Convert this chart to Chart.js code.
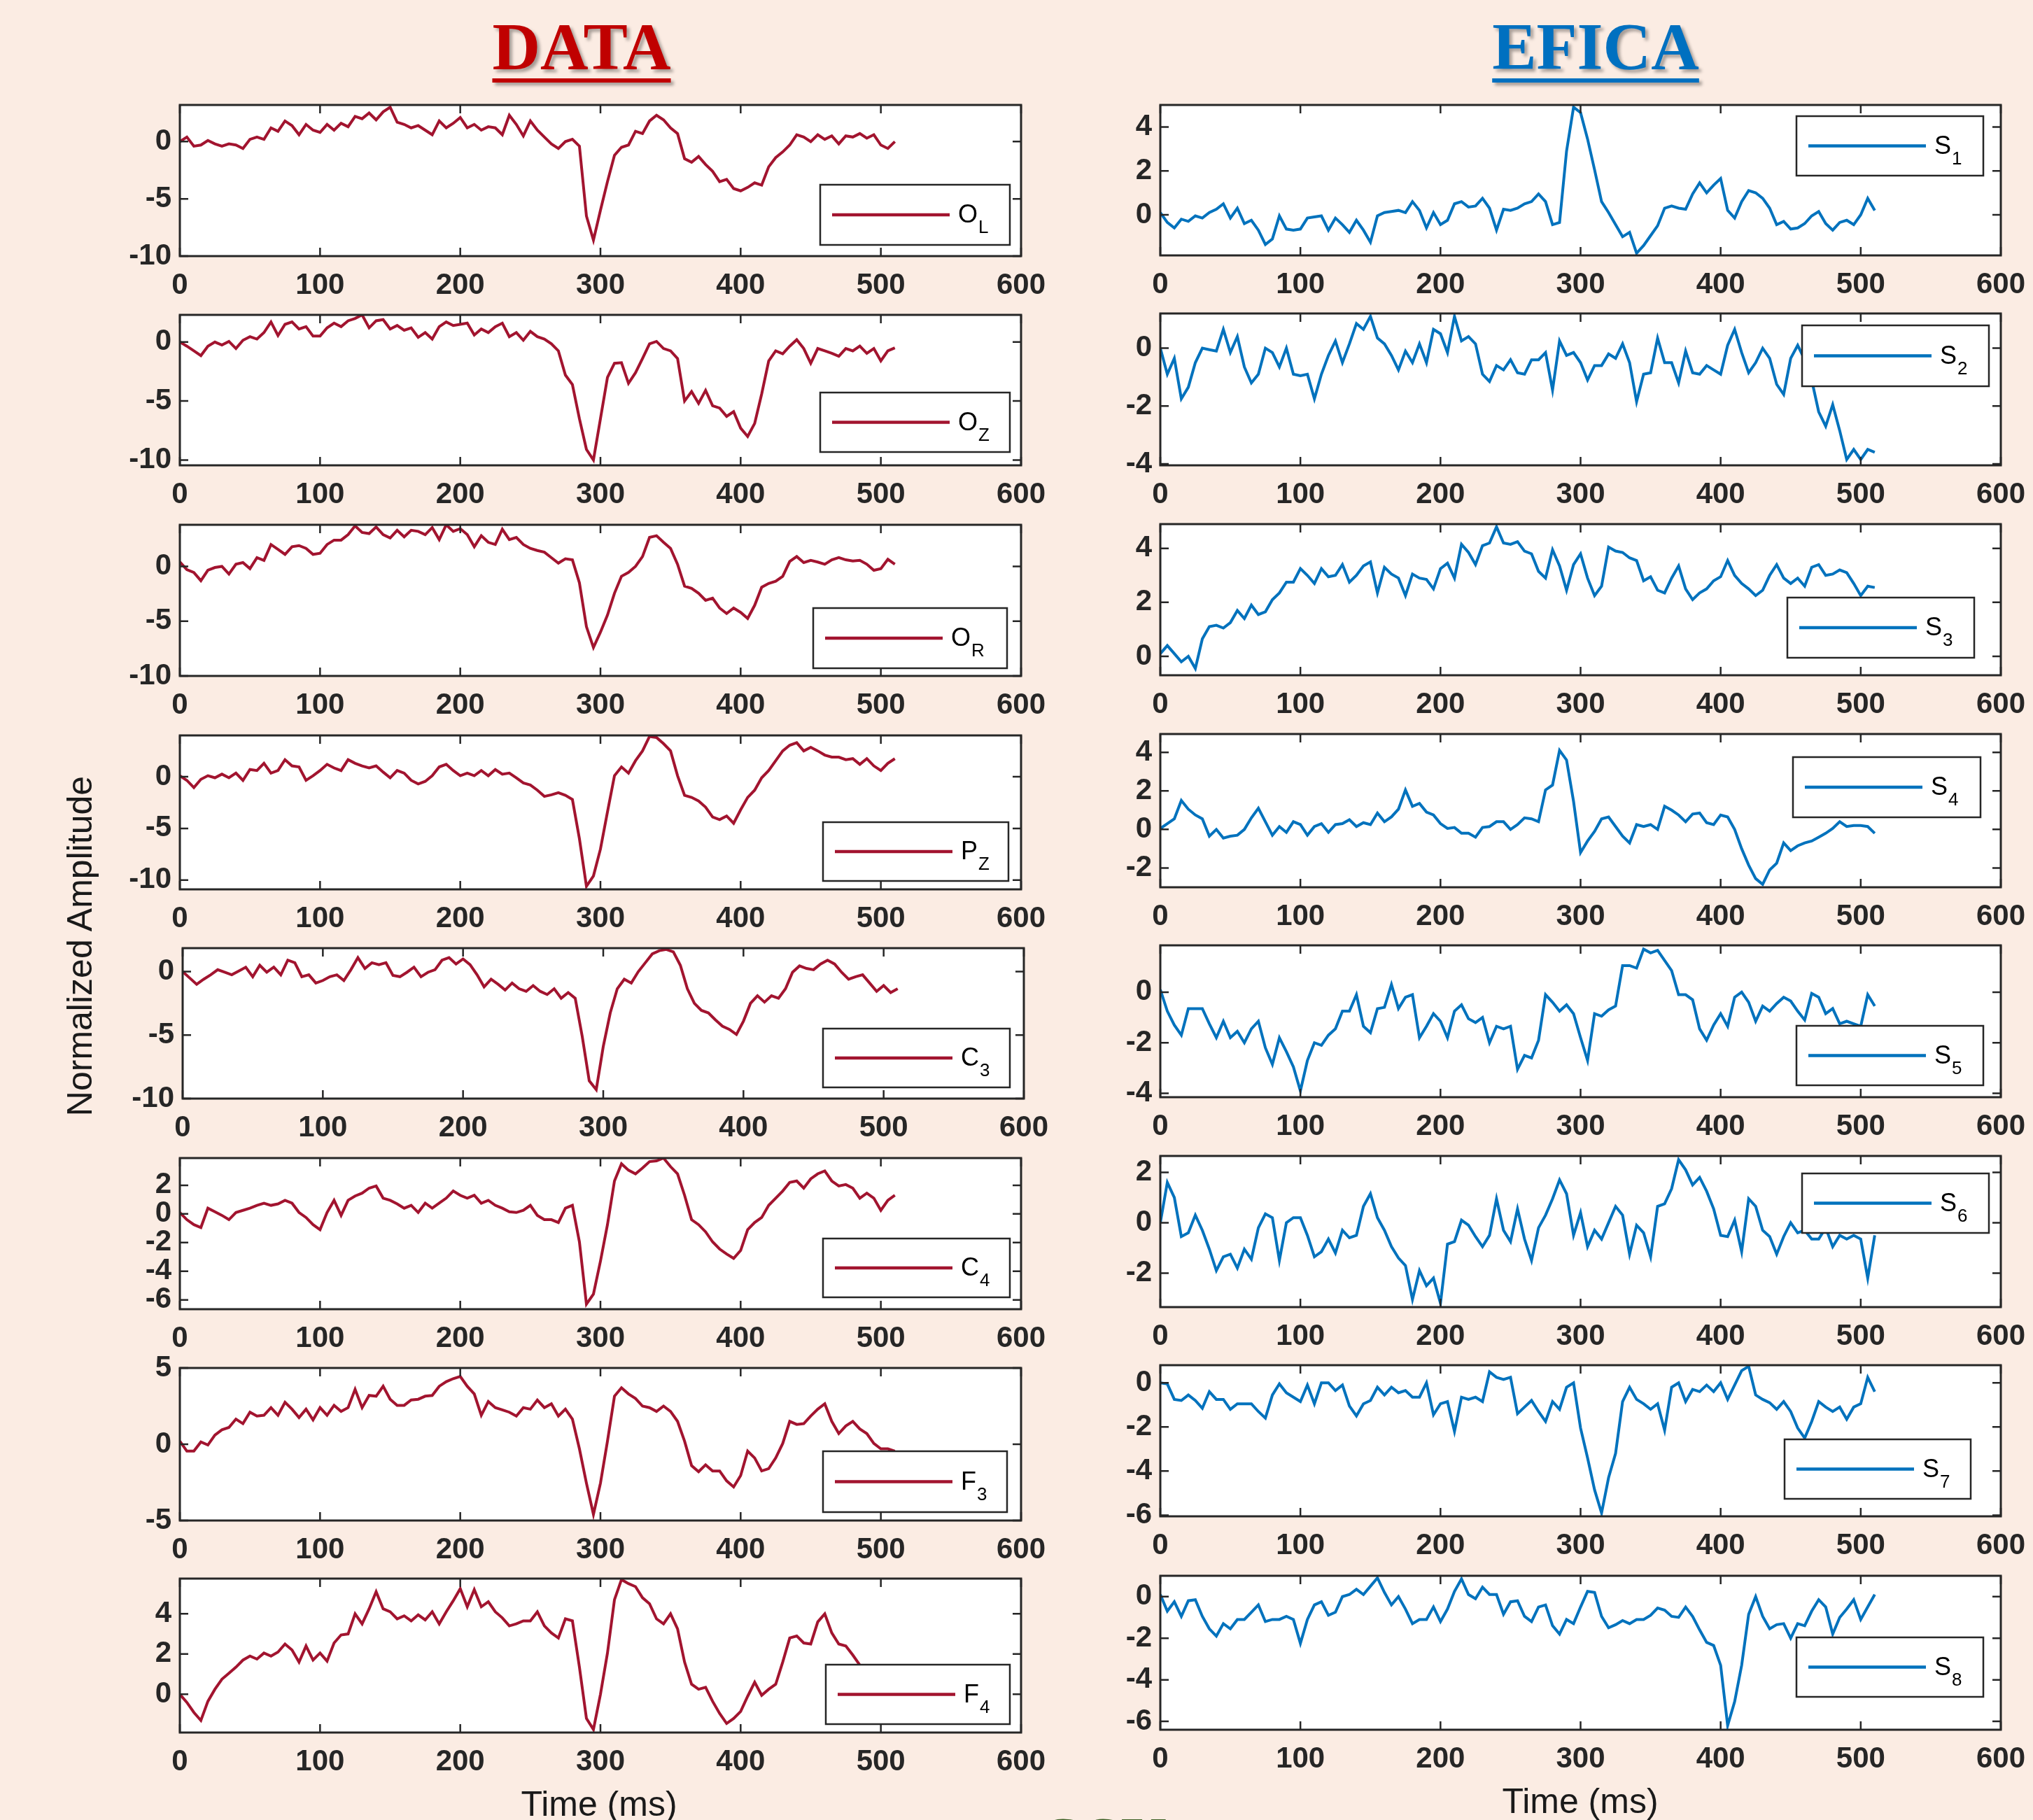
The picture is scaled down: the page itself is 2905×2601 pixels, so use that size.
<!DOCTYPE html>
<html>
<head>
<meta charset="utf-8">
<script src="https://cdn.jsdelivr.net/npm/chart.js@4.4.1/dist/chart.umd.min.js"></script>
<style>
  html, body { margin: 0; padding: 0; background: #fbece3; overflow: hidden; }
  #page { position: relative; width: 2905px; height: 2601px; overflow: hidden; background: #fbece3; }
  .title { position: absolute; font-family: "Liberation Serif", serif; font-weight: bold; font-size: 95px; line-height: 95px;
           white-space: nowrap; transform: translateX(-50%); text-decoration: underline; text-decoration-thickness: 6px;
           text-underline-offset: 13px; text-shadow: 4px 4px 4px rgba(0,0,0,0.35); }
  .label { position: absolute; font-family: "Liberation Sans", Arial, sans-serif; font-size: 50px; line-height: 50px;
           color: #1a1a1a; white-space: nowrap; }
</style>
</head>
<body>
<div id="page">
  <div class="title" style="left:831px; top:20px; color:#c00000;">DATA</div>
  <div class="title" style="left:2280px; top:20px; color:#0070c0;">EFICA</div>
  <div class="label" style="left:114px; top:1352px; transform: translate(-50%, -50%) rotate(-90deg);">Normalized Amplitude</div>
  <div class="label" style="left:856px; top:2553px; transform: translateX(-50%);">Time (ms)</div>
  <div class="label" style="left:2258px; top:2549px; transform: translateX(-50%);">Time (ms)</div>
  <div class="title" style="left:1575px; top:2582px; color:#3b5e22; font-size:93px; text-decoration:none; text-shadow:none;">CSU</div>
</div>
<script>
// sample times (ms)
const timeMs = [0,5,10,15,20,25,30,35,40,45,50,55,60,65,70,75,80,85,90,95,
  100,105,110,115,120,125,130,135,140,145,150,155,160,165,170,175,180,185,190,195,
  200,205,210,215,220,225,230,235,240,245,250,255,260,265,270,275,280,285,290,295,
  300,305,310,315,320,325,330,335,340,345,350,355,360,365,370,375,380,385,390,395,
  400,405,410,415,420,425,430,435,440,445,450,455,460,465,470,475,480,485,490,495,
  500,505,510];
const xTicks = [0, 100, 200, 300, 400, 500, 600];

// DATA channels
const oL = [0, 0.4, -0.4, -0.3, 0.1, -0.2, -0.4, -0.2, -0.3, -0.6,
  0.2, 0.4, 0.2, 1.2, 0.9, 1.8, 1.4, 0.6, 1.5, 1.0,
  0.8, 1.5, 1.0, 1.6, 1.3, 2.2, 2.0, 2.5, 1.9, 2.6,
  3.0, 1.7, 1.5, 1.2, 1.4, 1.0, 0.6, 1.8, 1.2, 1.6,
  2.1, 1.2, 1.5, 1.0, 1.3, 1.2, 0.6, 2.3, 1.5, 0.5,
  1.8, 1.0, 0.4, -0.2, -0.6, 0.0, 0.2, -0.4, -6.5, -8.6,
  -6.0, -3.5, -1.2, -0.5, -0.3, 0.9, 0.7, 1.8, 2.3, 1.9,
  1.2, 0.7, -1.5, -1.8, -1.3, -2.0, -2.6, -3.5, -3.3, -4.1,
  -4.3, -4.0, -3.6, -3.8, -2.2, -1.4, -0.9, -0.3, 0.6, 0.4,
  0.0, 0.6, 0.2, 0.5, -0.2, 0.5, 0.4, 0.7, 0.3, 0.6,
  -0.3, -0.6, 0.0];
const oZ = [0, -0.35, -0.75, -1.15, -0.35, 0, -0.25, 0.05, -0.55, 0.15,
  0.45, 0.25, 0.8, 1.7, 0.55, 1.5, 1.7, 1.1, 1.3, 0.5,
  0.5, 1.2, 1.6, 1.3, 1.8, 2.0, 2.3, 1.2, 1.8, 1.9,
  1.1, 1.4, 1.0, 1.2, 0.4, 0.8, 0.25, 1.3, 1.7, 1.4,
  1.5, 1.6, 0.6, 1.1, 0.8, 1.3, 1.6, 0.45, 0.8, 0.15,
  0.9, 0.45, 0.25, -0.15, -0.75, -2.8, -3.6, -6.5, -9.1, -10.0,
  -6.5, -3.0, -1.8, -1.75, -3.5, -2.6, -1.4, -0.15, 0.05, -0.55,
  -0.75, -1.4, -5.0, -4.2, -5.2, -4.1, -5.4, -5.6, -6.3, -5.9,
  -7.3, -8.0, -6.9, -4.4, -1.6, -0.75, -1.0, -0.35, 0.2, -0.55,
  -1.8, -0.55, -0.75, -0.95, -1.2, -0.55, -0.75, -0.35, -0.95, -0.55,
  -1.6, -0.75, -0.5];
const oR = [0.4, -0.3, -0.55, -1.3, -0.35, -0.1, 0, -0.7, 0.2, 0.35,
  -0.2, 0.8, 0.55, 2.0, 1.55, 1.1, 1.8, 1.9, 1.65, 1.1,
  1.2, 2.0, 2.4, 2.4, 2.9, 3.7, 3.1, 3.0, 3.6, 2.9,
  2.6, 3.3, 2.7, 3.3, 3.2, 2.9, 3.55, 2.45, 3.8, 3.2,
  3.45, 2.9, 1.8, 2.8, 2.2, 2.0, 3.4, 2.45, 2.65, 2.0,
  1.65, 1.45, 1.3, 0.8, 0.3, 0.7, 0.6, -1.5, -5.5, -7.4,
  -6.0, -4.45, -2.45, -0.9, -0.55, 0, 0.9, 2.65, 2.8, 2.2,
  1.65, 0.2, -1.8, -2.0, -2.45, -3.1, -2.9, -3.8, -4.3, -3.8,
  -4.2, -4.75, -3.55, -1.9, -1.55, -1.35, -0.9, 0.45, 0.9, 0.35,
  0.55, 0.4, 0.2, 0.6, 0.8, 0.6, 0.5, 0.55, 0.2, -0.35,
  -0.2, 0.65, 0.2];
const pZ = [0.1, -0.35, -1.05, -0.25, 0.1, -0.1, 0.25, -0.1, 0.35, -0.35,
  0.7, 0.6, 1.3, 0.35, 0.6, 1.65, 1.05, 0.95, -0.35, 0.1,
  0.6, 1.2, 0.85, 0.6, 1.65, 1.3, 1.05, 0.85, 1.05, 0.45,
  -0.1, 0.6, 0.35, -0.35, -0.7, -0.45, 0.1, 0.95, 1.2, 0.6,
  0.1, 0.35, 0.1, 0.6, 0.1, 0.7, 0.25, 0.35, -0.1, -0.6,
  -0.8, -1.3, -1.9, -1.75, -1.55, -1.8, -2.2, -6.0, -10.6, -9.6,
  -7.0, -3.4, 0.1, 0.95, 0.35, 1.55, 2.5, 3.9, 3.8, 3.2,
  2.5, 0.1, -1.8, -2.0, -2.35, -2.95, -3.9, -4.15, -3.8, -4.5,
  -3.2, -2.0, -1.3, -0.1, 0.6, 1.55, 2.5, 3.05, 3.3, 2.5,
  2.85, 2.5, 2.1, 1.9, 1.9, 1.65, 1.75, 1.2, 1.75, 1.05,
  0.6, 1.3, 1.75];
const c3 = [0, -0.5, -1.0, -0.6, -0.25, 0.15, -0.05, -0.25, 0.05, 0.35,
  -0.4, 0.5, -0.05, 0.35, -0.25, 0.9, 0.7, -0.4, -0.25, -0.9,
  -0.7, -0.4, -0.25, -0.7, 0.15, 1.1, 0.25, 0.7, 0.55, 0.7,
  -0.3, -0.4, -0.05, 0.35, -0.4, -0.05, 0.15, 0.9, 1.1, 0.6,
  1.0, 0.55, -0.25, -1.2, -0.6, -1.0, -1.45, -0.9, -1.35, -1.55,
  -1.1, -1.55, -1.8, -1.35, -2.1, -1.65, -2.1, -5.1, -8.6, -9.3,
  -5.9, -3.25, -1.35, -0.6, -0.9, 0.0, 0.7, 1.4, 1.65, 1.75,
  1.55, 0.5, -1.35, -2.5, -3.05, -3.25, -3.8, -4.3, -4.55, -4.95,
  -3.9, -2.5, -1.9, -2.4, -1.9, -2.1, -1.35, -0.05, 0.45, 0.25,
  0.15, 0.6, 0.9, 0.6, -0.05, -0.6, -0.4, -0.25, -0.9, -1.55,
  -1.1, -1.65, -1.35];
const c4 = [0.1, -0.4, -0.75, -0.95, 0.4, 0.15, -0.1, -0.4, 0.1, 0.25,
  0.4, 0.6, 0.75, 0.6, 0.7, 0.95, 0.75, 0.1, -0.25, -0.75,
  -1.1, 0.1, 0.95, -0.1, 0.95, 1.25, 1.45, 1.8, 1.95, 1.1,
  0.95, 0.7, 0.4, 0.6, 0.1, 0.75, 0.4, 0.75, 1.1, 1.6,
  1.3, 1.1, 1.3, 0.75, 0.95, 0.6, 0.4, 0.15, 0.1, 0.25,
  0.6, -0.1, -0.4, -0.4, -0.6, 0.4, 0.6, -1.95, -6.3, -5.6,
  -3.3, -0.75, 2.3, 3.5, 3.05, 2.8, 3.2, 3.65, 3.7, 3.9,
  3.3, 2.8, 1.3, -0.4, -0.75, -1.25, -1.95, -2.45, -2.8, -3.1,
  -2.55, -1.1, -0.6, -0.25, 0.6, 1.1, 1.6, 2.2, 2.3, 1.8,
  2.45, 2.8, 3.0, 2.3, 1.95, 2.05, 1.8, 1.1, 1.45, 1.1,
  0.25, 0.95, 1.3];
const f3 = [0.2, -0.45, -0.45, 0.15, -0.05, 0.6, 0.95, 1.1, 1.65, 1.35,
  2.1, 1.85, 1.9, 2.4, 1.9, 2.75, 2.3, 1.75, 2.3, 1.6,
  2.4, 1.9, 2.55, 2.15, 2.4, 3.6, 2.4, 3.2, 3.15, 3.8,
  2.95, 2.55, 2.55, 2.9, 2.95, 3.15, 3.2, 3.8, 4.1, 4.3,
  4.45, 3.8, 3.3, 1.9, 2.8, 2.4, 2.25, 2.1, 1.85, 2.4,
  2.3, 2.9, 2.4, 2.65, 1.85, 2.3, 1.65, -0.3, -2.55, -4.6,
  -2.55, 0.2, 3.15, 3.7, 3.3, 3.0, 2.5, 2.4, 2.15, 2.5,
  2.15, 1.5, 0.2, -1.4, -1.8, -1.35, -1.75, -1.75, -2.4, -2.8,
  -2.05, -0.45, -0.9, -1.75, -1.6, -0.9, 0.05, 1.5, 1.3, 1.35,
  1.85, 2.3, 2.65, 1.5, 0.7, 1.2, 1.5, 1.0, 0.7, 0.05,
  -0.3, -0.3, -0.45];
const f4 = [0.0, -0.4, -0.9, -1.3, -0.35, 0.25, 0.75, 1.05, 1.35, 1.7,
  1.9, 1.75, 2.05, 1.9, 2.1, 2.5, 2.2, 1.6, 2.4, 1.7,
  2.05, 1.65, 2.55, 2.95, 3.0, 4.0, 3.5, 4.25, 5.1, 4.25,
  4.1, 3.75, 3.9, 3.65, 3.95, 3.7, 4.1, 3.5, 4.1, 4.65,
  5.25, 4.35, 5.2, 4.35, 4.6, 4.1, 3.8, 3.4, 3.5, 3.65,
  3.65, 4.1, 3.4, 3.05, 2.8, 3.75, 3.65, 1.35, -1.2, -1.75,
  0.0, 2.05, 4.7, 5.7, 5.5, 5.35, 4.8, 4.5, 3.75, 3.5,
  4.0, 3.25, 1.6, 0.5, 0.25, 0.35, -0.35, -0.95, -1.45, -1.2,
  -0.85, -0.1, 0.6, -0.05, 0.25, 0.5, 1.6, 2.8, 2.9, 2.55,
  2.5, 3.6, 4.0, 3.05, 2.5, 2.4, 1.95, 1.45, null, null,
  null, null, null];

// EFICA sources
const s1 = [0.1, -0.35, -0.6, -0.2, -0.3, -0.05, -0.15, 0.1, 0.25, 0.5,
  -0.15, 0.3, -0.4, -0.25, -0.7, -1.35, -1.1, -0.05, -0.65, -0.7,
  -0.65, -0.15, -0.1, -0.05, -0.7, -0.15, -0.45, -0.8, -0.25, -0.7,
  -1.25, -0.05, 0.1, 0.15, 0.2, 0.1, 0.6, 0.2, -0.6, 0.1,
  -0.45, -0.25, 0.5, 0.6, 0.35, 0.4, 0.75, 0.3, -0.7, 0.25,
  0.2, 0.3, 0.5, 0.6, 0.95, 0.6, -0.45, -0.35, 2.9, 4.9,
  4.65, 3.45, 2.05, 0.6, 0.1, -0.45, -1.0, -0.8, -1.75, -1.4,
  -0.95, -0.5, 0.3, 0.4, 0.3, 0.25, 0.95, 1.45, 1.0, 1.35,
  1.65, 0.2, -0.15, 0.6, 1.1, 1.0, 0.75, 0.3, -0.45, -0.3,
  -0.65, -0.6, -0.4, -0.05, 0.15, -0.4, -0.7, -0.35, -0.25, -0.45,
  0.0, 0.75, 0.2];
const s2 = [0.0, -0.9, -0.35, -1.75, -1.35, -0.5, 0.0, -0.05, -0.1, 0.65,
  -0.15, 0.4, -0.65, -1.2, -0.9, 0.0, -0.15, -0.65, 0.0, -0.9,
  -0.95, -0.9, -1.75, -0.9, -0.25, 0.25, -0.5, 0.15, 0.85, 0.65,
  1.1, 0.35, 0.15, -0.25, -0.75, -0.1, -0.5, 0.15, -0.5, 0.65,
  0.5, -0.15, 1.1, 0.25, 0.4, 0.15, -0.9, -1.15, -0.6, -0.75,
  -0.4, -0.85, -0.9, -0.4, -0.4, -0.15, -1.45, 0.25, -0.25, -0.15,
  -0.5, -1.1, -0.6, -0.6, -0.2, -0.35, 0.15, -0.5, -1.85, -0.9,
  -0.85, 0.35, -0.5, -0.5, -1.2, -0.1, -0.85, -0.9, -0.6, -0.75,
  -0.9, 0.1, 0.65, -0.15, -0.85, -0.5, 0.0, -0.35, -1.25, -1.6,
  -0.35, 0.1, -0.4, -1.1, -2.2, -2.7, -1.95, -2.85, -3.85, -3.5,
  -3.85, -3.5, -3.6];
const s3 = [0.1, 0.4, 0.1, -0.2, 0.0, -0.45, 0.65, 1.1, 1.15, 1.05,
  1.25, 1.7, 1.4, 1.9, 1.55, 1.65, 2.1, 2.35, 2.75, 2.75,
  3.25, 3.0, 2.7, 3.25, 2.95, 3.0, 3.4, 2.75, 3.0, 3.35,
  3.5, 2.35, 3.3, 3.05, 2.9, 2.25, 3.05, 2.9, 2.85, 2.5,
  3.25, 3.45, 2.9, 4.15, 3.85, 3.4, 4.1, 4.2, 4.8, 4.2,
  4.15, 4.25, 3.9, 3.8, 3.15, 2.9, 3.95, 3.35, 2.45, 3.4,
  3.8, 2.9, 2.25, 2.6, 4.05, 3.9, 3.85, 3.65, 3.55, 2.8,
  2.95, 2.45, 2.35, 2.9, 3.35, 2.5, 2.1, 2.35, 2.5, 2.8,
  2.95, 3.55, 3.0, 2.7, 2.5, 2.25, 2.45, 3.0, 3.4, 2.9,
  2.7, 2.9, 2.6, 3.3, 3.4, 3.0, 3.05, 3.2, 3.1, 2.7,
  2.25, 2.6, 2.55];
const s4 = [0.05, 0.3, 0.55, 1.5, 1.05, 0.75, 0.55, -0.35, 0.0, -0.45,
  -0.35, -0.3, 0.0, 0.6, 1.1, 0.4, -0.3, 0.15, -0.15, 0.4,
  0.25, -0.3, 0.15, 0.3, -0.15, 0.25, 0.3, 0.5, 0.15, 0.35,
  0.25, 0.85, 0.4, 0.65, 1.05, 2.05, 1.2, 1.35, 0.9, 0.75,
  0.3, 0.05, 0.1, -0.2, -0.2, -0.4, 0.1, 0.15, 0.4, 0.4,
  0.0, 0.25, 0.6, 0.55, 0.4, 2.05, 2.3, 4.1, 3.6, 1.45,
  -1.2, -0.6, -0.1, 0.55, 0.65, 0.15, -0.35, -0.7, 0.25, 0.15,
  0.25, 0.0, 1.2, 1.0, 0.75, 0.4, 0.8, 0.85, 0.35, 0.25,
  0.75, 0.65, 0.0, -1.0, -1.85, -2.55, -2.85, -2.1, -1.75, -0.7,
  -1.1, -0.85, -0.7, -0.6, -0.4, -0.2, 0.05, 0.4, 0.15, 0.2,
  0.2, 0.15, -0.2];
const s5 = [0.1, -0.75, -1.3, -1.7, -0.65, -0.65, -0.65, -1.25, -1.8, -1.15,
  -1.8, -1.55, -2.0, -1.45, -1.15, -2.2, -2.85, -1.8, -2.35, -2.95,
  -3.9, -2.7, -2.0, -2.1, -1.7, -1.45, -0.75, -0.75, -0.1, -1.35,
  -1.6, -0.65, -0.6, 0.3, -0.65, -0.2, -0.1, -1.8, -1.35, -0.85,
  -1.15, -1.8, -0.75, -0.5, -1.05, -1.2, -1.0, -2.0, -1.35, -1.45,
  -1.35, -3.05, -2.5, -2.6, -1.9, -0.1, -0.4, -0.75, -0.5, -0.85,
  -1.8, -2.7, -0.85, -0.95, -0.7, -0.55, 1.05, 1.05, 0.95, 1.7,
  1.55, 1.65, 1.25, 0.85, -0.1, -0.1, -0.3, -1.45, -1.9, -1.3,
  -0.85, -1.35, -0.2, 0.0, -0.4, -1.15, -0.55, -0.75, -0.45, -0.2,
  -0.35, -0.75, -1.1, -0.05, -0.2, -0.85, -0.65, -1.25, -1.15, -1.25,
  -1.35, -0.1, -0.55];
const s6 = [0.0, 1.6, 1.0, -0.55, -0.4, 0.3, -0.3, -1.05, -1.9, -1.35,
  -1.25, -1.8, -1.05, -1.45, -0.2, 0.35, 0.2, -1.5, 0.0, 0.2,
  0.2, -0.5, -1.35, -1.15, -0.65, -1.2, -0.3, -0.6, -0.5, 0.65,
  1.15, 0.2, -0.3, -0.95, -1.4, -1.7, -3.05, -1.9, -2.5, -2.2,
  -3.2, -0.85, -0.75, 0.1, -0.1, -0.55, -0.95, -0.5, 0.95, -0.3,
  -0.75, 0.55, -0.65, -1.5, -0.2, 0.3, 0.95, 1.7, 1.15, -0.5,
  0.4, -0.95, -0.3, -0.65, 0.0, 0.65, 0.3, -1.25, -0.1, -0.4,
  -1.35, 0.65, 0.75, 1.35, 2.5, 2.1, 1.5, 1.8, 1.25, 0.55,
  -0.5, -0.55, 0.1, -1.15, 0.95, 0.65, -0.3, -0.55, -1.25, -0.55,
  0.0, -0.4, -0.3, -0.65, -0.65, -0.2, -0.95, -0.5, -0.65, -0.5,
  -0.65, -2.2, -0.5];
const s7 = [0.0, -0.05, -0.75, -0.8, -0.55, -0.8, -1.15, -0.4, -0.75, -0.75,
  -1.2, -0.95, -0.95, -0.95, -1.3, -1.6, -0.55, -0.05, -0.45, -0.65,
  -0.85, -0.1, -0.95, 0.0, 0.0, -0.35, -0.1, -1.05, -1.5, -0.95,
  -0.8, -0.2, -0.55, -0.2, -0.45, -0.35, -0.65, -0.65, 0.0, -1.45,
  -0.95, -0.85, -2.2, -0.65, -0.75, -0.65, -0.85, 0.5, 0.25, 0.15,
  0.25, -1.4, -1.1, -0.8, -1.3, -1.75, -0.85, -1.2, -0.2, 0.0,
  -2.05, -3.4, -4.85, -5.9, -4.3, -3.2, -0.85, -0.2, -0.75, -0.95,
  -1.2, -0.95, -2.15, -0.2, 0.0, -0.85, -0.3, -0.4, -0.1, -0.4,
  0.0, -0.75, -0.1, 0.55, 0.75, -0.55, -0.75, -0.9, -1.2, -0.85,
  -1.3, -2.05, -2.5, -1.75, -0.85, -1.1, -1.3, -1.1, -1.65, -1.1,
  -0.95, 0.25, -0.4];
const s8 = [0.1, -0.7, -0.25, -0.95, -0.2, -0.15, -0.95, -1.55, -1.9, -1.3,
  -1.55, -1.1, -1.1, -0.75, -0.4, -1.2, -1.1, -1.1, -0.95, -1.1,
  -2.25, -1.1, -0.4, -0.25, -0.9, -0.75, 0.0, 0.1, 0.35, 0.1,
  0.5, 0.9, 0.2, -0.4, 0.0, -0.6, -1.3, -1.1, -1.1, -0.5,
  -1.2, -0.6, 0.25, 0.85, 0.1, -0.1, 0.45, 0.1, 0.1, -0.85,
  -0.25, -0.2, -0.95, -1.2, -0.5, -0.4, -1.4, -1.8, -1.1, -1.3,
  -0.5, 0.25, 0.2, -0.95, -1.5, -1.35, -1.15, -1.3, -1.1, -1.1,
  -0.9, -0.55, -0.65, -0.95, -1.0, -0.5, -0.95, -1.6, -2.2, -2.35,
  -3.3, -6.2, -5.05, -3.3, -0.85, 0.0, -0.95, -1.55, -1.35, -1.3,
  -2.0, -1.3, -1.4, -0.7, -0.15, -0.5, -1.8, -1.0, -0.6, -0.15,
  -1.1, -0.5, 0.1];

const RED = '#a2142f';
const BLUE = '#0072bd';
const AXIS = '#262626';

// panel layout: plot area and legend box in page pixels
const panels = [
  { values: oL, color: RED,  x: 257, y: 150,  w: 1202, h: 216, ymin: -10,   ymax: 3.2,  yticks: [-10, -5, 0], name: 'O', sub: 'L', lg: [1172, 264, 271, 86] },
  { values: oZ, color: RED,  x: 257, y: 450,  w: 1202, h: 215, ymin: -10.45, ymax: 2.3, yticks: [-10, -5, 0], name: 'O', sub: 'Z', lg: [1172, 561, 271, 85] },
  { values: oR, color: RED,  x: 257, y: 750,  w: 1202, h: 216, ymin: -10,   ymax: 3.8,  yticks: [-10, -5, 0], name: 'O', sub: 'R', lg: [1162, 869, 277, 86] },
  { values: pZ, color: RED,  x: 257, y: 1051, w: 1202, h: 220, ymin: -10.9, ymax: 4.0,  yticks: [-10, -5, 0], name: 'P', sub: 'Z', lg: [1176, 1175, 265, 84] },
  { values: c3, color: RED,  x: 261, y: 1355, w: 1202, h: 215, ymin: -10,   ymax: 1.85, yticks: [-10, -5, 0], name: 'C', sub: '3', lg: [1176, 1470, 267, 84] },
  { values: c4, color: RED,  x: 257, y: 1655, w: 1202, h: 216, ymin: -6.65, ymax: 3.9,  yticks: [-6, -4, -2, 0, 2], name: 'C', sub: '4', lg: [1176, 1770, 267, 84] },
  { values: f3, color: RED,  x: 257, y: 1955, w: 1202, h: 218, ymin: -5,    ymax: 5,    yticks: [-5, 0, 5], name: 'F', sub: '3', lg: [1176, 2074, 263, 87] },
  { values: f4, color: RED,  x: 257, y: 2256, w: 1202, h: 220, ymin: -1.9,  ymax: 5.75, yticks: [0, 2, 4], name: 'F', sub: '4', lg: [1180, 2379, 263, 85] },
  { values: s1, color: BLUE, x: 1658, y: 150,  w: 1201, h: 215, ymin: -1.85, ymax: 5.0,  yticks: [0, 2, 4], name: 'S', sub: '1', lg: [2567, 166, 267, 85] },
  { values: s2, color: BLUE, x: 1658, y: 448,  w: 1201, h: 217, ymin: -4.05, ymax: 1.2,  yticks: [-4, -2, 0], name: 'S', sub: '2', lg: [2575, 465, 267, 87] },
  { values: s3, color: BLUE, x: 1658, y: 749,  w: 1201, h: 216, ymin: -0.7,  ymax: 4.9,  yticks: [0, 2, 4], name: 'S', sub: '3', lg: [2554, 854, 267, 86] },
  { values: s4, color: BLUE, x: 1658, y: 1049, w: 1201, h: 219, ymin: -3.0,  ymax: 4.95, yticks: [-2, 0, 2, 4], name: 'S', sub: '4', lg: [2562, 1082, 268, 86] },
  { values: s5, color: BLUE, x: 1658, y: 1351, w: 1201, h: 217, ymin: -4.15, ymax: 1.85, yticks: [-4, -2, 0], name: 'S', sub: '5', lg: [2567, 1466, 267, 85] },
  { values: s6, color: BLUE, x: 1658, y: 1652, w: 1201, h: 216, ymin: -3.35, ymax: 2.65, yticks: [-2, 0, 2], name: 'S', sub: '6', lg: [2575, 1677, 267, 85] },
  { values: s7, color: BLUE, x: 1658, y: 1951, w: 1201, h: 216, ymin: -6.05, ymax: 0.8,  yticks: [-6, -4, -2, 0], name: 'S', sub: '7', lg: [2550, 2057, 266, 85] },
  { values: s8, color: BLUE, x: 1658, y: 2252, w: 1201, h: 220, ymin: -6.4,  ymax: 1.0,  yticks: [-6, -4, -2, 0], name: 'S', sub: '8', lg: [2567, 2340, 267, 85] }
];

const PAD_L = 150, PAD_T = 30, PAD_R = 60, PAD_B = 80;
const tickFont = { family: '"Liberation Sans", Arial, sans-serif', size: 42, weight: 'bold' };

// no automatic label padding: the plot area must sit exactly where the layout says
function pinPadding(ax) {
  ax.paddingTop = 0; ax.paddingBottom = 0; ax.paddingLeft = 0; ax.paddingRight = 0;
}

// white plot area, MATLAB-like box with inward ticks, and an opaque legend
function decoPlugin(p, offX, offY) {
  return {
    id: 'deco',
    beforeDatasetsDraw(chart) {
      const a = chart.chartArea, c = chart.ctx;
      c.save();
      c.fillStyle = '#ffffff';
      c.fillRect(a.left, a.top, a.right - a.left, a.bottom - a.top);
      c.restore();
    },
    afterDatasetsDraw(chart) {
      const a = chart.chartArea, c = chart.ctx;
      const xs = chart.scales.x, ys = chart.scales.y;
      c.save();
      // legend
      const bx = p.lg[0] - offX, by = p.lg[1] - offY, bw = p.lg[2], bh = p.lg[3];
      c.fillStyle = '#ffffff';
      c.fillRect(bx, by, bw, bh);
      c.strokeStyle = AXIS;
      c.lineWidth = 2.5;
      c.strokeRect(bx, by, bw, bh);
      c.strokeStyle = p.color;
      c.lineWidth = 4.5;
      c.beginPath();
      c.moveTo(bx + 17, by + bh / 2);
      c.lineTo(bx + 185, by + bh / 2);
      c.stroke();
      c.fillStyle = '#000000';
      c.textBaseline = 'alphabetic';
      c.font = '36px "Liberation Sans", Arial, sans-serif';
      c.fillText(p.name, bx + 197, by + bh / 2 + 11);
      const mw = c.measureText(p.name).width;
      c.font = '26px "Liberation Sans", Arial, sans-serif';
      c.fillText(p.sub, bx + 197 + mw + 1, by + bh / 2 + 26);
      // box and ticks
      c.strokeStyle = AXIS;
      c.lineWidth = 3;
      c.strokeRect(a.left, a.top, a.right - a.left, a.bottom - a.top);
      c.lineWidth = 2.5;
      c.beginPath();
      xTicks.forEach(v => {
        const px = xs.getPixelForValue(v);
        c.moveTo(px, a.bottom); c.lineTo(px, a.bottom - 12);
        c.moveTo(px, a.top); c.lineTo(px, a.top + 12);
      });
      p.yticks.forEach(v => {
        const py = ys.getPixelForValue(v);
        c.moveTo(a.left, py); c.lineTo(a.left + 12, py);
        c.moveTo(a.right, py); c.lineTo(a.right - 12, py);
      });
      c.stroke();
      c.restore();
    }
  };
}

const page = document.getElementById('page');
panels.forEach(p => {
  const cw = p.w + PAD_L + PAD_R, ch = p.h + PAD_T + PAD_B;
  const offX = p.x - PAD_L, offY = p.y - PAD_T;
  const cv = document.createElement('canvas');
  cv.width = cw; cv.height = ch;
  cv.style.cssText = `position:absolute;left:${offX}px;top:${offY}px;width:${cw}px;height:${ch}px;`;
  page.appendChild(cv);
  new Chart(cv.getContext('2d'), {
    type: 'line',
    data: {
      datasets: [{
        data: timeMs.map((t, i) => ({ x: t, y: p.values[i] })),
        borderColor: p.color,
        borderWidth: 4,
        pointRadius: 0,
        tension: 0,
        spanGaps: false
      }]
    },
    options: {
      responsive: false,
      animation: false,
      devicePixelRatio: 1,
      layout: { padding: { left: 0, top: PAD_T, right: PAD_R, bottom: 0 } },
      plugins: { legend: { display: false }, tooltip: { enabled: false } },
      scales: {
        x: {
          type: 'linear', min: 0, max: 600,
          afterBuildTicks: ax => { ax.ticks = xTicks.map(v => ({ value: v })); },
          afterFit: ax => { ax.height = PAD_B; pinPadding(ax); },
          grid: { display: false, drawTicks: false },
          border: { display: false },
          ticks: { font: tickFont, color: AXIS, padding: 17, maxRotation: 0, autoSkip: false }
        },
        y: {
          type: 'linear', min: p.ymin, max: p.ymax,
          afterBuildTicks: ax => { ax.ticks = p.yticks.map(v => ({ value: v })); },
          afterFit: ax => { ax.width = PAD_L; pinPadding(ax); },
          grid: { display: false, drawTicks: false },
          border: { display: false },
          ticks: { font: tickFont, color: AXIS, padding: 12, autoSkip: false }
        }
      }
    },
    plugins: [decoPlugin(p, offX, offY)]
  });
});
</script>
</body>
</html>
